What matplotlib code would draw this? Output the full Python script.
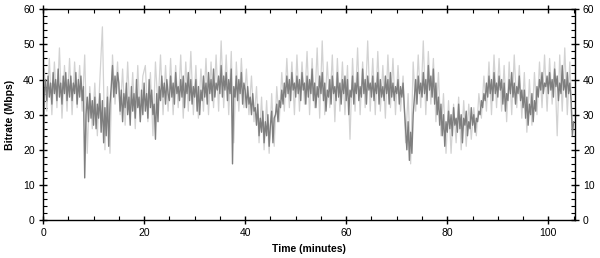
import numpy as np
import matplotlib.pyplot as plt
from matplotlib.ticker import MultipleLocator

# main bitrate trace (Mbps), one sample every 0.25 min, 0 .. 105 min
bitrate = [
    1, 36, 40, 34, 41, 35, 39, 33, 42, 36, 40, 34, 43, 35, 39, 33, 41, 36, 42, 34,
    40, 35, 41, 34, 39, 36, 42, 33, 40, 35, 41, 34, 38, 12, 30, 35, 28, 36, 29, 34,
    27, 35, 26, 33, 29, 36, 25, 34, 22, 32, 24, 35, 21, 33, 38, 44, 35, 41, 36, 42,
    39, 31, 37, 28, 36, 32, 39, 30, 35, 27, 38, 31, 36, 29, 40, 32, 35, 28, 37, 30,
    39, 31, 36, 29, 40, 32, 37, 30, 33, 23, 36, 28, 38, 34, 41, 35, 39, 33, 40, 36,
    34, 41, 35, 39, 33, 42, 36, 38, 34, 40, 35, 41, 32, 39, 36, 42, 34, 40, 33, 38,
    35, 40, 31, 38, 30, 37, 34, 41, 35, 39, 33, 42, 36, 40, 34, 43, 35, 39, 37, 41,
    36, 44, 35, 41, 37, 42, 34, 40, 36, 43, 16, 38, 35, 41, 34, 40, 36, 42, 33, 39,
    37, 32, 38, 33, 35, 30, 36, 31, 32, 27, 33, 24, 29, 25, 31, 22, 28, 24, 30, 21,
    27, 31, 22, 29, 30, 33, 28, 34, 32, 37, 33, 39, 35, 41, 36, 40, 34, 42, 37, 39,
    35, 41, 36, 40, 34, 42, 37, 39, 33, 41, 35, 40, 36, 43, 34, 39, 32, 38, 35, 41,
    36, 42, 34, 39, 31, 37, 35, 40, 33, 41, 36, 38, 34, 42, 35, 39, 33, 40, 36, 41,
    34, 40, 30, 37, 35, 41, 33, 39, 36, 42, 34, 38, 35, 43, 36, 40, 33, 41, 37, 39,
    35, 41, 34, 39, 36, 42, 33, 40, 35, 38, 34, 41, 36, 40, 33, 42, 35, 39, 34, 38,
    36, 40, 33, 38, 35, 39, 32, 26, 20, 28, 17, 25, 19, 30, 35, 40, 33, 41, 36, 39,
    35, 42, 36, 40, 34, 44, 37, 41, 35, 43, 33, 39, 30, 35, 27, 33, 24, 30, 21, 28,
    25, 31, 26, 30, 24, 32, 27, 29, 25, 33, 26, 30, 22, 29, 27, 31, 24, 28, 26, 32,
    27, 30, 25, 29, 28, 31, 30, 34, 32, 36, 34, 39, 35, 41, 36, 40, 34, 42, 36, 39,
    35, 41, 37, 40, 33, 39, 31, 36, 34, 40, 36, 42, 35, 39, 33, 38, 36, 41, 34, 37,
    32, 37, 29, 35, 27, 33, 30, 36, 28, 34, 31, 38, 35, 40, 37, 42, 36, 39, 38, 41,
    36, 42, 37, 40, 35, 43, 38, 41, 34, 39, 36, 44, 37, 40, 35, 42, 36, 39, 34, 24,
    28,
]

# light outer spikes, one sample every 0.5 min starting at 0.25 min
spikes = [
    43, 31, 46, 30, 45, 32, 49, 29, 44, 31,
    46, 30, 45, 32, 44, 31, 47, 19, 38, 26,
    39, 24, 40, 55, 20, 38, 19, 47, 33, 45,
    30, 43, 27, 45, 29, 42, 26, 44, 28, 41,
    44, 28, 42, 24, 45, 32, 47, 30, 44, 31,
    46, 30, 44, 32, 47, 29, 45, 31, 48, 30,
    44, 29, 43, 31, 46, 30, 45, 32, 47, 31,
    51, 32, 47, 30, 48, 22, 45, 31, 46, 32,
    43, 30, 41, 28, 38, 22, 35, 20, 34, 19,
    36, 21, 38, 28, 42, 31, 46, 32, 45, 30,
    47, 31, 45, 33, 48, 30, 46, 32, 49, 29,
    51, 30, 45, 32, 47, 28, 46, 31, 45, 30,
    44, 23, 46, 31, 49, 30, 45, 32, 51, 31,
    46, 30, 48, 31, 44, 29, 47, 32, 46, 30,
    44, 31, 41, 22, 36, 16, 45, 31, 47, 32,
    51, 30, 48, 33, 46, 28, 42, 24, 36, 19,
    34, 19, 33, 22, 35, 20, 34, 21, 33, 23,
    32, 24, 36, 29, 41, 31, 45, 30, 47, 32,
    46, 31, 44, 28, 45, 30, 47, 32, 44, 29,
    42, 25, 40, 27, 42, 30, 45, 32, 47, 31,
    46, 33, 45, 24, 47, 31, 49, 30, 45, 26,
]

t_main = np.arange(len(bitrate)) * 0.25
t_spk = 0.25 + np.arange(len(spikes)) * 0.5

plt.rcParams['font.family'] = ['Liberation Sans', 'DejaVu Sans']

fig = plt.figure(figsize=(6, 2.58), dpi=100)
ax = fig.add_axes([0.0717, 0.147, 0.886, 0.817])

ax.plot(t_spk, spikes, color='#d2d2d2', linewidth=0.9)
ax.plot(t_main, bitrate, color='#7f7f7f', linewidth=1.0)

ax.set_xlim(0, 105.2)
ax.set_ylim(0, 60)
ax.xaxis.set_major_locator(MultipleLocator(20))
ax.xaxis.set_minor_locator(MultipleLocator(5))
ax.yaxis.set_major_locator(MultipleLocator(10))
ax.yaxis.set_minor_locator(MultipleLocator(2))
ax.tick_params(which='major', direction='inout', length=6, width=1,
               top=True, right=True, labelright=True, labelsize=7.5, pad=3)
ax.tick_params(which='minor', direction='in', length=3, width=0.8,
               top=True, right=True)
for s in ax.spines.values():
    s.set_linewidth(1)

ax.set_xlabel('Time (minutes)', fontsize=7.5, fontweight='bold', labelpad=4)
ax.set_ylabel('Bitrate (Mbps)', fontsize=7.5, fontweight='bold', labelpad=6)

plt.savefig('out.png', dpi=100)
